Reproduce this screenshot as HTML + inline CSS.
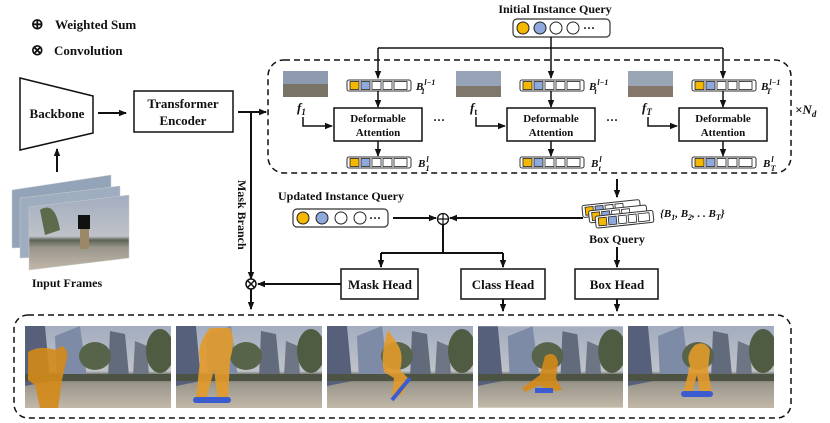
<!DOCTYPE html>
<html><head><meta charset="utf-8"><style>
html,body{margin:0;padding:0;background:#fff}
svg{display:block}
text{font-family:"Liberation Serif",serif;font-weight:bold;fill:#111}
</style></head><body>
<svg width="830" height="423" viewBox="0 0 830 423" xmlns="http://www.w3.org/2000/svg">
<defs>
<marker id="a" markerWidth="8" markerHeight="8" refX="7" refY="4" orient="auto" markerUnits="userSpaceOnUse">
<path d="M0,0.8 L8,4 L0,7.2 Z" fill="#111"/></marker>
<linearGradient id="sky" x1="0" y1="0" x2="0" y2="1">
<stop offset="0" stop-color="#a3adc0"/><stop offset="0.55" stop-color="#bfc2c8"/><stop offset="0.6" stop-color="#5d6356"/><stop offset="0.7" stop-color="#9a968c"/><stop offset="1" stop-color="#c2b8a8"/></linearGradient>
<symbol id="ph" viewBox="0 0 146 82">
<rect width="146" height="82" fill="url(#sky)"/>
<path d="M0,0 L20,0 L25,55 L0,60Z" fill="#56607a"/>
<path d="M30,10 L55,0 L62,52 L32,55Z" fill="#7d8ba6"/>
<path d="M85,5 L100,8 L104,50 L83,52Z" fill="#626b7c"/>
<path d="M110,15 L122,20 L124,50 L108,50Z" fill="#6e7686"/>
<ellipse cx="70" cy="30" rx="16" ry="14" fill="#58644a"/>
<ellipse cx="135" cy="25" rx="14" ry="22" fill="#505c42"/>
<rect x="0" y="48" width="146" height="7" fill="#4c5343"/>
</symbol>
</defs>

<text x="31" y="29" font-size="15" font-weight="normal">⊕</text>
<text x="55" y="29" font-size="13">Weighted Sum</text>
<text x="31" y="55" font-size="15" font-weight="normal">⊗</text>
<text x="54" y="55" font-size="13">Convolution</text>

<polygon points="20,78 93,96 93,133 20,150" fill="#fff" stroke="#111" stroke-width="1.5"/>
<text x="57" y="118" font-size="13" text-anchor="middle">Backbone</text>
<line x1="98" y1="113" x2="126" y2="113" stroke="#111" stroke-width="2" marker-end="url(#a)"/>
<line x1="57" y1="172" x2="57" y2="149" stroke="#111" stroke-width="2" marker-end="url(#a)"/>
<rect x="134" y="91" width="99" height="41" fill="#fff" stroke="#111" stroke-width="1.5"/>
<text x="183" y="108" font-size="13" text-anchor="middle">Transformer</text>
<text x="183" y="125" font-size="13" text-anchor="middle">Encoder</text>

<g>
<polygon points="12,190 111,175 111,244 12,248" fill="#93a3b8" stroke="#ccc" stroke-width="0.5"/>
<polygon points="20,198 120,186 120,254 20,258" fill="#9fadc0" stroke="#ccc" stroke-width="0.5"/>
<polygon points="29,207 129,195 129,258 29,270" fill="url(#sky)" stroke="#ccc" stroke-width="0.5"/>
<rect x="78" y="215" width="12" height="14" fill="#111"/>
<rect x="80" y="229" width="9" height="20" fill="#9a8868"/>
<path d="M40,210 Q55,200 60,230 L45,235Z" fill="#5d6a4c"/>
</g>
<text x="67" y="287" font-size="12" text-anchor="middle">Input Frames</text>

<line x1="238" y1="112" x2="266" y2="112" stroke="#111" stroke-width="2" marker-end="url(#a)"/>
<line x1="251" y1="112" x2="251" y2="279" stroke="#111" stroke-width="2" marker-end="url(#a)"/>
<text x="0" y="0" font-size="12" transform="translate(238,180) rotate(90)">Mask Branch</text>
<circle cx="251" cy="284" r="5" fill="#fff" stroke="#111" stroke-width="1.5"/>
<path d="M247.5,280.5 L254.5,287.5 M254.5,280.5 L247.5,287.5" stroke="#111" stroke-width="1.5"/>
<line x1="251" y1="289" x2="251" y2="309" stroke="#111" stroke-width="2" marker-end="url(#a)"/>

<text x="555" y="13" font-size="12" text-anchor="middle">Initial Instance Query</text>
<rect x="513" y="19" width="97" height="18" rx="4" fill="#fff" stroke="#333" stroke-width="1.2"/>
<circle cx="523" cy="28" r="6" fill="#f5b700" stroke="#222"/>
<circle cx="540" cy="28" r="6" fill="#8fa9dc" stroke="#222"/>
<circle cx="556" cy="28" r="6" fill="#fff" stroke="#222"/>
<circle cx="573" cy="28" r="6" fill="#fff" stroke="#222"/>
<text x="583" y="32" font-size="12" font-weight="normal">···</text>
<line x1="551" y1="37" x2="551" y2="48" stroke="#111" stroke-width="1.5"/>
<line x1="378" y1="48" x2="723" y2="48" stroke="#111" stroke-width="1.5"/>

<rect x="268" y="60" width="523" height="113" rx="16" fill="none" stroke="#111" stroke-width="1.5" stroke-dasharray="6,4"/>
<text x="795" y="114" font-size="13" font-weight="normal" font-style="italic">×<tspan font-weight="bold">N</tspan><tspan font-size="9" dy="3">d</tspan></text>

<g>
<line x1="378" y1="48" x2="378" y2="78" stroke="#111" stroke-width="1.5" marker-end="url(#a)"/>
<rect x="283" y="71" width="45" height="26" fill="#8d9ab0"/><rect x="283" y="84" width="45" height="13" fill="#7a7466"/>
<g transform="translate(347,80)"><rect width="64" height="11" rx="2" fill="#fff" stroke="#333"/><rect x="3" y="1.5" width="9" height="8" fill="#f5b700" stroke="#222" stroke-width="0.8"/><rect x="14" y="1.5" width="9" height="8" fill="#8fa9dc" stroke="#222" stroke-width="0.8"/><rect x="25" y="1.5" width="9" height="8" fill="#fff" stroke="#222" stroke-width="0.8"/><rect x="36" y="1.5" width="9" height="8" fill="#fff" stroke="#222" stroke-width="0.8"/><rect x="47" y="1.5" width="13" height="8" fill="#fff" stroke="#222" stroke-width="0.8"/></g>
<text x="416" y="90" font-size="11" font-style="italic">B<tspan font-size="8" dx="1" dy="-5">l−1</tspan><tspan font-size="8" dx="-14" dy="9">1</tspan></text>
<line x1="378" y1="91" x2="378" y2="107" stroke="#111" stroke-width="1.5" marker-end="url(#a)"/>
<rect x="334" y="108" width="88" height="33" fill="#fff" stroke="#111" stroke-width="1.5"/>
<text x="378" y="122" font-size="11" text-anchor="middle">Deformable</text>
<text x="378" y="136" font-size="11" text-anchor="middle">Attention</text>
<text x="297" y="112" font-size="13" font-style="italic">f<tspan font-size="9" dy="3">1</tspan></text>
<path d="M303,117 V126 H332" fill="none" stroke="#111" stroke-width="1.5" marker-end="url(#a)"/>
<line x1="378" y1="141" x2="378" y2="156" stroke="#111" stroke-width="1.5" marker-end="url(#a)"/>
<g transform="translate(347,157)"><rect width="64" height="11" rx="2" fill="#fff" stroke="#333"/><rect x="3" y="1.5" width="9" height="8" fill="#f5b700" stroke="#222" stroke-width="0.8"/><rect x="14" y="1.5" width="9" height="8" fill="#8fa9dc" stroke="#222" stroke-width="0.8"/><rect x="25" y="1.5" width="9" height="8" fill="#fff" stroke="#222" stroke-width="0.8"/><rect x="36" y="1.5" width="9" height="8" fill="#fff" stroke="#222" stroke-width="0.8"/><rect x="47" y="1.5" width="13" height="8" fill="#fff" stroke="#222" stroke-width="0.8"/></g>
<text x="418" y="167" font-size="11" font-style="italic">B<tspan font-size="8" dx="1" dy="-5">l</tspan><tspan font-size="8" dx="-3" dy="9">1</tspan></text>
<text x="433" y="124" font-size="12" font-weight="normal">···</text>
</g>

<g transform="translate(173,0)">
<line x1="378" y1="48" x2="378" y2="78" stroke="#111" stroke-width="1.5" marker-end="url(#a)"/>
<rect x="283" y="71" width="45" height="26" fill="#97a3b6"/><rect x="283" y="86" width="45" height="11" fill="#7e776a"/>
<g transform="translate(347,80)"><rect width="64" height="11" rx="2" fill="#fff" stroke="#333"/><rect x="3" y="1.5" width="9" height="8" fill="#f5b700" stroke="#222" stroke-width="0.8"/><rect x="14" y="1.5" width="9" height="8" fill="#8fa9dc" stroke="#222" stroke-width="0.8"/><rect x="25" y="1.5" width="9" height="8" fill="#fff" stroke="#222" stroke-width="0.8"/><rect x="36" y="1.5" width="9" height="8" fill="#fff" stroke="#222" stroke-width="0.8"/><rect x="47" y="1.5" width="13" height="8" fill="#fff" stroke="#222" stroke-width="0.8"/></g>
<text x="416" y="90" font-size="11" font-style="italic">B<tspan font-size="8" dx="1" dy="-5">l−1</tspan><tspan font-size="8" dx="-14" dy="9">t</tspan></text>
<line x1="378" y1="91" x2="378" y2="107" stroke="#111" stroke-width="1.5" marker-end="url(#a)"/>
<rect x="334" y="108" width="88" height="33" fill="#fff" stroke="#111" stroke-width="1.5"/>
<text x="378" y="122" font-size="11" text-anchor="middle">Deformable</text>
<text x="378" y="136" font-size="11" text-anchor="middle">Attention</text>
<text x="297" y="112" font-size="13" font-style="italic">f<tspan font-size="9" dy="3" font-style="normal">t</tspan></text>
<path d="M303,117 V126 H332" fill="none" stroke="#111" stroke-width="1.5" marker-end="url(#a)"/>
<line x1="378" y1="141" x2="378" y2="156" stroke="#111" stroke-width="1.5" marker-end="url(#a)"/>
<g transform="translate(347,157)"><rect width="64" height="11" rx="2" fill="#fff" stroke="#333"/><rect x="3" y="1.5" width="9" height="8" fill="#f5b700" stroke="#222" stroke-width="0.8"/><rect x="14" y="1.5" width="9" height="8" fill="#8fa9dc" stroke="#222" stroke-width="0.8"/><rect x="25" y="1.5" width="9" height="8" fill="#fff" stroke="#222" stroke-width="0.8"/><rect x="36" y="1.5" width="9" height="8" fill="#fff" stroke="#222" stroke-width="0.8"/><rect x="47" y="1.5" width="13" height="8" fill="#fff" stroke="#222" stroke-width="0.8"/></g>
<text x="418" y="167" font-size="11" font-style="italic">B<tspan font-size="8" dx="1" dy="-5">l</tspan><tspan font-size="8" dx="-3" dy="9">t</tspan></text>
<text x="433" y="124" font-size="12" font-weight="normal">···</text>
</g>

<g transform="translate(345,0)">
<line x1="378" y1="48" x2="378" y2="78" stroke="#111" stroke-width="1.5" marker-end="url(#a)"/>
<rect x="283" y="71" width="45" height="26" fill="#9aa5b6"/><rect x="283" y="86" width="45" height="11" fill="#85786a"/>
<g transform="translate(347,80)"><rect width="64" height="11" rx="2" fill="#fff" stroke="#333"/><rect x="3" y="1.5" width="9" height="8" fill="#f5b700" stroke="#222" stroke-width="0.8"/><rect x="14" y="1.5" width="9" height="8" fill="#8fa9dc" stroke="#222" stroke-width="0.8"/><rect x="25" y="1.5" width="9" height="8" fill="#fff" stroke="#222" stroke-width="0.8"/><rect x="36" y="1.5" width="9" height="8" fill="#fff" stroke="#222" stroke-width="0.8"/><rect x="47" y="1.5" width="13" height="8" fill="#fff" stroke="#222" stroke-width="0.8"/></g>
<text x="416" y="90" font-size="11" font-style="italic">B<tspan font-size="8" dx="1" dy="-5">l−1</tspan><tspan font-size="8" dx="-14" dy="9">T</tspan></text>
<line x1="378" y1="91" x2="378" y2="107" stroke="#111" stroke-width="1.5" marker-end="url(#a)"/>
<rect x="334" y="108" width="88" height="33" fill="#fff" stroke="#111" stroke-width="1.5"/>
<text x="378" y="122" font-size="11" text-anchor="middle">Deformable</text>
<text x="378" y="136" font-size="11" text-anchor="middle">Attention</text>
<text x="297" y="112" font-size="13" font-style="italic">f<tspan font-size="9" dy="3">T</tspan></text>
<path d="M303,117 V126 H332" fill="none" stroke="#111" stroke-width="1.5" marker-end="url(#a)"/>
<line x1="378" y1="141" x2="378" y2="156" stroke="#111" stroke-width="1.5" marker-end="url(#a)"/>
<g transform="translate(347,157)"><rect width="64" height="11" rx="2" fill="#fff" stroke="#333"/><rect x="3" y="1.5" width="9" height="8" fill="#f5b700" stroke="#222" stroke-width="0.8"/><rect x="14" y="1.5" width="9" height="8" fill="#8fa9dc" stroke="#222" stroke-width="0.8"/><rect x="25" y="1.5" width="9" height="8" fill="#fff" stroke="#222" stroke-width="0.8"/><rect x="36" y="1.5" width="9" height="8" fill="#fff" stroke="#222" stroke-width="0.8"/><rect x="47" y="1.5" width="13" height="8" fill="#fff" stroke="#222" stroke-width="0.8"/></g>
<text x="418" y="167" font-size="11" font-style="italic">B<tspan font-size="8" dx="1" dy="-5">l</tspan><tspan font-size="8" dx="-3" dy="9">T</tspan></text>
</g>

<line x1="617" y1="179" x2="617" y2="197" stroke="#111" stroke-width="2" marker-end="url(#a)"/>
<g transform="rotate(-6 617 215)">
<g transform="translate(583,202)"><rect width="58" height="12" rx="2" fill="#fff" stroke="#333"/><rect x="3" y="2" width="8" height="8" fill="#f5b700" stroke="#222" stroke-width="0.8"/><rect x="13" y="2" width="8" height="8" fill="#8fa9dc" stroke="#222" stroke-width="0.8"/><rect x="23" y="2" width="8" height="8" fill="#fff" stroke="#222" stroke-width="0.8"/><rect x="33" y="2" width="8" height="8" fill="#fff" stroke="#222" stroke-width="0.8"/></g>
<g transform="translate(589,208)"><rect width="58" height="12" rx="2" fill="#fff" stroke="#333"/><rect x="3" y="2" width="8" height="8" fill="#f5b700" stroke="#222" stroke-width="0.8"/><rect x="13" y="2" width="8" height="8" fill="#8fa9dc" stroke="#222" stroke-width="0.8"/><rect x="23" y="2" width="8" height="8" fill="#fff" stroke="#222" stroke-width="0.8"/><rect x="33" y="2" width="8" height="8" fill="#fff" stroke="#222" stroke-width="0.8"/></g>
<g transform="translate(595,214)"><rect width="58" height="12" rx="2" fill="#fff" stroke="#333"/><rect x="3" y="2" width="8" height="8" fill="#f5b700" stroke="#222" stroke-width="0.8"/><rect x="13" y="2" width="8" height="8" fill="#8fa9dc" stroke="#222" stroke-width="0.8"/><rect x="23" y="2" width="8" height="8" fill="#fff" stroke="#222" stroke-width="0.8"/><rect x="33" y="2" width="8" height="8" fill="#fff" stroke="#222" stroke-width="0.8"/><rect x="43" y="2" width="11" height="8" fill="#fff" stroke="#222" stroke-width="0.8"/></g>
</g>
<text x="660" y="217" font-size="11" font-style="italic" font-weight="normal">{<tspan font-weight="bold">B</tspan><tspan font-size="8" dy="3">1</tspan><tspan dy="-3">, </tspan><tspan font-weight="bold">B</tspan><tspan font-size="8" dy="3">2</tspan><tspan dy="-3">, . . </tspan><tspan font-weight="bold">B</tspan><tspan font-size="8" dy="3">T</tspan><tspan dy="-3">}</tspan></text>
<text x="617" y="243" font-size="12" text-anchor="middle">Box Query</text>
<line x1="617" y1="247" x2="617" y2="267" stroke="#111" stroke-width="2" marker-end="url(#a)"/>

<text x="341" y="200" font-size="12" text-anchor="middle">Updated Instance Query</text>
<rect x="293" y="209" width="95" height="18" rx="4" fill="#fff" stroke="#333" stroke-width="1.2"/>
<circle cx="303" cy="218" r="6" fill="#f5b700" stroke="#222"/>
<circle cx="322" cy="218" r="6" fill="#8fa9dc" stroke="#222"/>
<circle cx="341" cy="218" r="6" fill="#fff" stroke="#222"/>
<circle cx="360" cy="218" r="6" fill="#fff" stroke="#222"/>
<text x="369" y="222" font-size="12" font-weight="normal">···</text>
<line x1="393" y1="218" x2="436" y2="218" stroke="#111" stroke-width="2" marker-end="url(#a)"/>
<line x1="583" y1="218" x2="450" y2="218" stroke="#111" stroke-width="2" marker-end="url(#a)"/>
<circle cx="443" cy="219" r="5.5" fill="#fff" stroke="#111" stroke-width="1.3"/>
<path d="M437.5,219 H448.5 M443,213.5 V224.5" stroke="#111" stroke-width="1.2"/>
<line x1="443" y1="225" x2="443" y2="253" stroke="#111" stroke-width="2"/>
<line x1="381" y1="253" x2="503" y2="253" stroke="#111" stroke-width="2"/>
<line x1="381" y1="253" x2="381" y2="267" stroke="#111" stroke-width="2" marker-end="url(#a)"/>
<line x1="503" y1="253" x2="503" y2="267" stroke="#111" stroke-width="2" marker-end="url(#a)"/>

<rect x="341" y="269" width="77" height="30" fill="#fff" stroke="#111" stroke-width="1.5"/>
<text x="380" y="289" font-size="13" text-anchor="middle">Mask Head</text>
<rect x="461" y="269" width="84" height="30" fill="#fff" stroke="#111" stroke-width="1.5"/>
<text x="503" y="289" font-size="13" text-anchor="middle">Class Head</text>
<rect x="575" y="269" width="83" height="30" fill="#fff" stroke="#111" stroke-width="1.5"/>
<text x="617" y="289" font-size="13" text-anchor="middle">Box Head</text>
<line x1="341" y1="284" x2="258" y2="284" stroke="#111" stroke-width="2" marker-end="url(#a)"/>
<line x1="503" y1="299" x2="503" y2="311" stroke="#111" stroke-width="2" marker-end="url(#a)"/>
<line x1="617" y1="299" x2="617" y2="311" stroke="#111" stroke-width="2" marker-end="url(#a)"/>

<rect x="14" y="315" width="777" height="103" rx="14" fill="none" stroke="#111" stroke-width="1.5" stroke-dasharray="6,4"/>
<use href="#ph" x="25" y="326" width="146" height="82"/>
<use href="#ph" x="176" y="326" width="146" height="82"/>
<use href="#ph" x="327" y="326" width="146" height="82"/>
<use href="#ph" x="478" y="326" width="145" height="82"/>
<use href="#ph" x="628" y="326" width="146" height="82"/>
<path d="M28,352 Q40,345 55,350 L62,346 Q70,350 66,362 L62,380 L58,408 L40,408 L35,385 L28,380Z" fill="#d48a18" opacity="0.9"/>
<path d="M210,328 L230,328 Q236,340 230,360 L228,400 L218,400 L214,370 L206,400 L196,398 L200,360 Q196,345 210,328Z" fill="#e39a2a" opacity="0.9"/>
<rect x="193" y="397" width="38" height="6" rx="3" fill="#3b5bd1"/>
<path d="M388,330 L398,345 Q404,355 400,370 L410,380 L402,395 L392,396 L394,378 L384,372 Q380,355 388,330Z" fill="#e39a2a" opacity="0.9"/>
<path d="M392,400 L410,378" stroke="#3b5bd1" stroke-width="4"/>
<path d="M545,356 Q555,350 558,362 L556,378 L562,390 L548,392 L540,385 L525,392 L522,388 L540,375Z" fill="#d48a18" opacity="0.9"/>
<rect x="535" y="388" width="18" height="5" fill="#3b5bd1"/>
<path d="M695,345 Q705,340 710,350 L708,370 L712,393 L700,393 L697,375 L692,393 L684,391 L690,365 Q685,355 695,345Z" fill="#e39a2a" opacity="0.9"/>
<rect x="681" y="391" width="32" height="6" rx="3" fill="#3b5bd1"/>
</svg>
</body></html>
